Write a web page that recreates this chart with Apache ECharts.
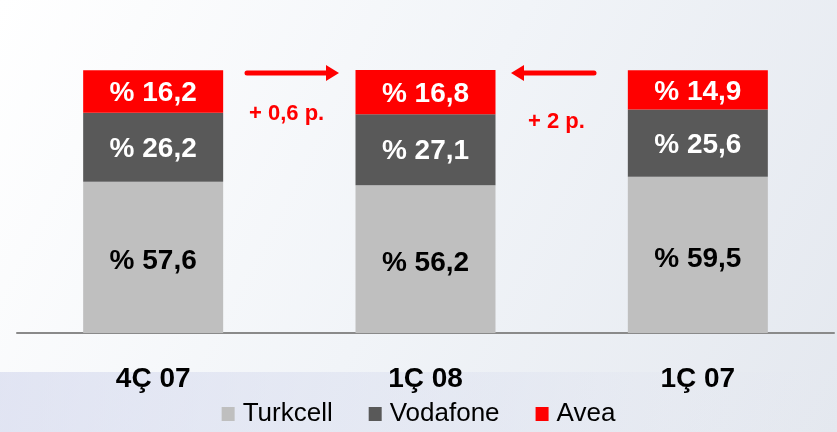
<!DOCTYPE html>
<html><head><meta charset="utf-8">
<script src="https://cdn.jsdelivr.net/npm/echarts@6/dist/echarts.min.js"></script>
<style>html,body{margin:0;padding:0;}#c{width:837px;height:432px;}</style>
</head><body><div id="c"></div>
<script>
var categories = ['4Ç 07', '1Ç 08', '1Ç 07'];
var turkcell = [57.6, 56.2, 59.5];
var vodafone = [26.2, 27.1, 25.6];
var avea = [16.2, 16.8, 14.9];
var seriesNames = ['Turkcell', 'Vodafone', 'Avea'];
var changeNotes = ['+ 0,6 p.', '+ 2 p.'];

var font = '"Liberation Sans", Arial, sans-serif';
function fmt(v){ return '% ' + String(v).replace('.', ','); }
function lbl(color, dy){
  return {show:true, position:'inside', offset:[0, dy], color:color, fontSize:28, fontWeight:'bold', fontFamily:font,
    formatter:function(p){return fmt(p.value);}};
}
var chart = echarts.init(document.getElementById('c'));
var option = {
  backgroundColor: {type:'linear', x:0, y:0, x2:1, y2:1, colorStops:[
    {offset:0, color:'#ffffff'}, {offset:0.5, color:'#f1f4f8'}, {offset:1, color:'#e4e8ef'}]},
  animation:false,
  graphic:[
    {type:'rect', z:-10, shape:{x:0, y:372, width:837, height:60},
     style:{fill:{type:'linear', x:0, y:0, x2:1, y2:0, colorStops:[
       {offset:0, color:'rgba(205,210,235,0.55)'}, {offset:0.6, color:'rgba(215,220,238,0.35)'}, {offset:1, color:'rgba(230,232,240,0.1)'}]}}},
    {type:'line', shape:{x1:247, y1:73, x2:328, y2:73}, style:{stroke:'#ff0000', lineWidth:5, lineCap:'round'}},
    {type:'polygon', shape:{points:[[326,65],[339,73],[326,81]]}, style:{fill:'#ff0000'}},
    {type:'line', shape:{x1:521, y1:73, x2:594, y2:73}, style:{stroke:'#ff0000', lineWidth:5, lineCap:'round'}},
    {type:'polygon', shape:{points:[[524,65],[511,73],[524,81]]}, style:{fill:'#ff0000'}},
    {type:'text', left:249, top:103, style:{text:changeNotes[0], fill:'#ff0000', font:'bold 22px ' + font}},
    {type:'text', left:528, top:111, style:{text:changeNotes[1], fill:'#ff0000', font:'bold 22px ' + font}}
  ],
  legend:{
    data:seriesNames, bottom:0, left:'center', itemWidth:13, itemHeight:14, itemGap:36,
    icon:'rect',
    textStyle:{fontSize:26, color:'#000', fontFamily:font, padding:[0,0,0,3]}
  },
  grid:{left:17, right:3, top:70, bottom:99},
  xAxis:{type:'category', data:categories,
    axisLine:{lineStyle:{color:'#8a8a8a', width:2}}, axisTick:{show:false},
    axisLabel:{margin:32, fontSize:28, fontWeight:'bold', color:'#000', fontFamily:font}},
  yAxis:{type:'value', min:0, max:100.1, show:false, splitLine:{show:false}},
  series:[
    {name:seriesNames[0], type:'bar', stack:'s', data:turkcell, barWidth:140, itemStyle:{color:'#bfbfbf'}, label:lbl('#000', 4)},
    {name:seriesNames[1], type:'bar', stack:'s', data:vodafone, barWidth:140, itemStyle:{color:'#595959'}, label:lbl('#fff', 2)},
    {name:seriesNames[2], type:'bar', stack:'s', data:avea, barWidth:140, itemStyle:{color:'#ff0000'}, label:lbl('#fff', 2)}
  ]
};
chart.setOption(option);
</script></body></html>
